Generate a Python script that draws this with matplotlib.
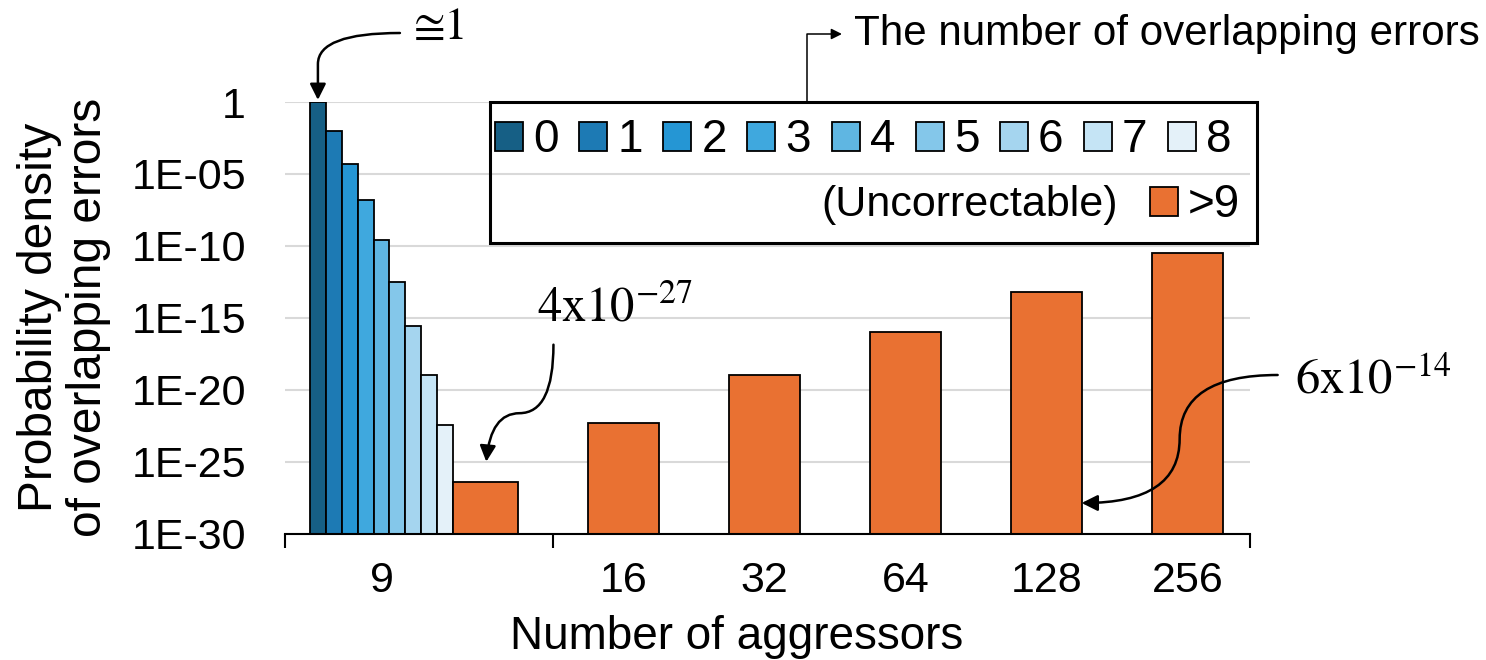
import matplotlib
matplotlib.use("Agg")
import matplotlib.pyplot as plt
from matplotlib.patches import ConnectionStyle, Rectangle
from matplotlib.path import Path
from matplotlib.ticker import FixedLocator, FixedFormatter, NullFormatter

# ---------------------------------------------------------------- data
error_counts = ["0", "1", "2", "3", "4", "5", "6", "7", "8"]
p_correctable_9 = [1.0, 1e-2, 5e-5, 1.5e-7, 2.6e-10, 3e-13, 2.5e-16, 1.1e-19, 3.5e-23]

aggressors = ["9", "16", "32", "64", "128", "256"]
p_uncorrectable = [4e-27, 5e-23, 1e-19, 1e-16, 6e-14, 3e-11]

y_tick_values = [1, 1e-5, 1e-10, 1e-15, 1e-20, 1e-25, 1e-30]
y_tick_labels = ["1", "1E-05", "1E-10", "1E-15", "1E-20", "1E-25", "1E-30"]

blue_shades = ["#165f85", "#1d7ab4", "#2596d4", "#3fa8de", "#5fb6e2",
               "#84c7ea", "#a5d5ef", "#c5e4f5", "#e4f1f9"]
orange = "#e97132"

# ---------------------------------------------------------------- style
plt.rcParams["font.family"] = ["Liberation Sans", "DejaVu Sans"]
plt.rcParams["mathtext.fontset"] = "stix"

W, H = 1486, 660
fig = plt.figure(figsize=(W / 100, H / 100), dpi=100)


def fig_pt(x, y):
    """Figure fraction from pixel position measured from the top-left."""
    return (x / W, 1 - y / H)


ax = fig.add_axes([285 / W, 126.5 / H, 965 / W, 431.5 / H])
ax.set_yscale("log")
y_floor = y_tick_values[-1]
ax.set_ylim(y_floor, y_tick_values[0])

# x layout in category-width units
first_span = 1.9          # the 9-aggressor group is wider than the others
blue_start = 0.177
blue_w = 0.1128
orange9_w = 0.459
bar_w = 0.5
x_max = 6.844

edge_kw = dict(edgecolor="black", linewidth=1.3, zorder=3)

blue_handles = []
for i, (p, c) in enumerate(zip(p_correctable_9, blue_shades)):
    b = ax.bar(blue_start + i * blue_w, p - y_floor, width=blue_w, bottom=y_floor,
               align="edge", color=c, label=error_counts[i], **edge_kw)
    blue_handles.append(b)

orange_left = blue_start + len(p_correctable_9) * blue_w
orange_x = [orange_left + orange9_w / 2] + [first_span + bar_w + k
                                            for k in range(len(aggressors) - 1)]
orange_wid = [orange9_w] + [bar_w] * (len(aggressors) - 1)
orange_bars = ax.bar(orange_x, [p - y_floor for p in p_uncorrectable], width=orange_wid,
                     bottom=y_floor, color=orange, label=">9", **edge_kw)

# axes decoration
ax.set_xlim(0, x_max)
for side in ("left", "right", "top"):
    ax.spines[side].set_visible(False)
ax.spines["bottom"].set_linewidth(1.5)
ax.spines["bottom"].set_zorder(4)

ax.yaxis.set_major_locator(FixedLocator(y_tick_values))
ax.yaxis.set_major_formatter(FixedFormatter(y_tick_labels))
ax.yaxis.set_minor_locator(FixedLocator([]))
ax.tick_params(axis="y", which="both", length=0, pad=28, labelsize=31)
ax.yaxis.grid(True, color="#d9d9d9", linewidth=1.5)
ax.set_axisbelow(True)

label_x = [blue_start + len(p_correctable_9) * blue_w / 2] + orange_x[1:]
ax.xaxis.set_major_locator(FixedLocator([0, first_span, x_max]))
ax.xaxis.set_major_formatter(NullFormatter())
ax.xaxis.set_minor_locator(FixedLocator(label_x))
ax.xaxis.set_minor_formatter(FixedFormatter(aggressors))
ax.tick_params(axis="x", which="major", length=10, width=1.5, direction="out")
ax.tick_params(axis="x", which="minor", length=0, pad=20, labelsize=31)

ax.set_xlabel("Number of aggressors", fontsize=33)
ax.xaxis.set_label_coords((736.5 - 285) / 965, -0.188)
ax.set_ylabel("Probability density\nof overlapping errors", fontsize=34.5, linespacing=1.1)
ax.yaxis.label.set_va("center")
ax.yaxis.set_label_coords((64 - 285) / 965, 0.5)

# ---------------------------------------------------------------- legend
leg_kw = dict(frameon=False, fontsize=33, handlelength=0.61, handleheight=0.61,
              handletextpad=0.22, borderpad=0, borderaxespad=0,
              bbox_transform=fig.transFigure)
leg1 = ax.legend(blue_handles, error_counts, ncol=len(error_counts), loc="center left",
                 bbox_to_anchor=fig_pt(495, 140.5), columnspacing=0.45, **leg_kw)
ax.add_artist(leg1)
ax.legend([orange_bars], [">9"], loc="center right",
          bbox_to_anchor=fig_pt(1240, 205.5), **leg_kw)
fig.text(*fig_pt(1118, 205.5), "(Uncorrectable)", ha="right", va="center", fontsize=31)
x0, y0 = fig_pt(490, 243)
x1, y1 = fig_pt(1257, 101.7)
fig.add_artist(Rectangle((x0, y0), x1 - x0, y1 - y0, transform=fig.transFigure,
                         fill=False, edgecolor="black", linewidth=2.2, zorder=5))

# callout naming the legend
fig.text(*fig_pt(854, 45), "The number of overlapping errors", ha="left",
         va="baseline", fontsize=30.3)
ax.annotate("", xy=(842, H - 34), xycoords="figure pixels",
            xytext=(807, H - 101.7), textcoords="figure pixels",
            arrowprops=dict(arrowstyle="-|>", connectionstyle="angle,angleA=90,angleB=0,rad=0",
                            color="black", lw=1.1, shrinkA=0, shrinkB=0, mutation_scale=16),
            annotation_clip=False)


# ---------------------------------------------------------------- value call-outs
class Swing(ConnectionStyle._Base):
    """Curved leader made of quarter turns between the two end points."""

    def __init__(self, lead):
        self.lead = lead

    def connect(self, posA, posB):
        (xa, ya), (xb, yb) = posA, posB
        xm, ym = (xa + xb) / 2, (ya + yb) / 2
        if self.lead == "vertical":
            verts = [(xa, ya), (xa, ym), (xm, ym), (xb, ym), (xb, yb)]
            codes = [Path.MOVETO] + [Path.CURVE3] * 4
        elif self.lead == "horizontal":
            verts = [(xa, ya), (xm, ya), (xm, ym), (xm, yb), (xb, yb)]
            codes = [Path.MOVETO] + [Path.CURVE3] * 4
        else:  # sweep sideways, then drop straight onto the target
            yk = ya + 0.45 * (yb - ya)
            verts = [(xa, ya), (xb, ya), (xb, yk), (xb, yb)]
            codes = [Path.MOVETO, Path.CURVE3, Path.CURVE3, Path.LINETO]
        return Path(verts, codes)


def leader(style, shrink_b=0.0):
    return dict(arrowstyle="-|>", connectionstyle=Swing(style), color="black",
                lw=1.8, shrinkA=0, shrinkB=shrink_b, mutation_scale=24)


math_kw = dict(fontsize=35, ha="left", va="baseline", textcoords="offset pixels",
               annotation_clip=False)

# bar for 0 overlapping errors at 9 aggressors
x_top = blue_start + blue_w / 2
ax.annotate("", xy=(x_top, p_correctable_9[0]), xytext=(82, 69),
            textcoords="offset pixels", arrowprops=leader("hook", 1.5),
            annotation_clip=False)
ax.annotate("\u22451", xy=(x_top, p_correctable_9[0]), xytext=(96, 63),
            **dict(math_kw, fontsize=33, family=["STIXGeneral", "DejaVu Serif"]))

# uncorrectable bar at 9 aggressors
ax.annotate("", xy=(orange_x[0], p_uncorrectable[0]), xytext=(68, 137),
            textcoords="offset pixels", arrowprops=leader("vertical", 14.4),
            annotation_clip=False)
ax.annotate(r"$\mathrm{4x10}^{-27}$", xy=(orange_x[0], p_uncorrectable[0]),
            xytext=(52, 160), **math_kw)

# uncorrectable bar at 128 aggressors, pointed at from its right side
i128 = aggressors.index("128")
side_xy = (orange_x[i128] + bar_w / 2, 0.0707)
ax.annotate("", xy=side_xy, xycoords=("data", "axes fraction"), xytext=(196, 128),
            textcoords="offset pixels", arrowprops=leader("horizontal"),
            annotation_clip=False)
ax.annotate(r"$\mathrm{6x10}^{-14}$", xy=side_xy, xycoords=("data", "axes fraction"),
            xytext=(213, 110), **math_kw)

fig.savefig("out.png", dpi=100)
